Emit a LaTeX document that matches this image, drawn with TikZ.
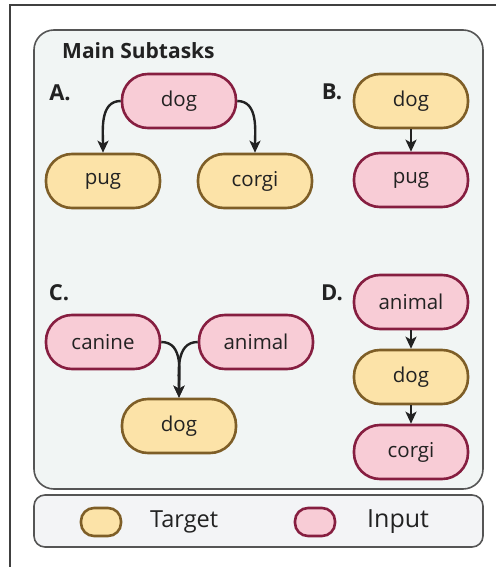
\documentclass[tikz,border=0pt]{standalone}
\usepackage{fontspec}
\setmainfont{Open Sans}
\usetikzlibrary{arrows.meta}
\definecolor{pinkfill}{HTML}{F8CCD6}
\definecolor{pinkline}{HTML}{861E40}
\definecolor{goldfill}{HTML}{FCE3A8}
\definecolor{goldline}{HTML}{7E5E27}
\definecolor{panelfill}{HTML}{F1F5F4}
\definecolor{legendfill}{HTML}{F3F4F6}
\definecolor{frameline}{HTML}{555555}
\definecolor{ink}{HTML}{222222}
\tikzset{
  pill/.style={rectangle, rounded corners=26pt, minimum width=114pt, minimum height=54pt,
    line width=2.6pt, inner sep=0pt, font=\fontsize{20.5}{24}\selectfont, text=ink},
  inputpill/.style={pill, fill=pinkfill, draw=pinkline},
  targetpill/.style={pill, fill=goldfill, draw=goldline},
  keypill/.style={rectangle, rounded corners=13pt, minimum width=40pt, minimum height=28pt,
    line width=2.6pt, inner sep=0pt},
  panellabel/.style={font=\bfseries\fontsize{22}{26}\selectfont, text=ink},
  flow/.style={line width=2.4pt, ink, -{Stealth[length=12pt,width=11pt,inset=3pt]}},
}
\begin{document}
\begin{tikzpicture}[x=1pt,y=1pt]
\useasboundingbox (0,0) rectangle (496,-567);
% outer frame edges
\draw[line width=1.5pt, black!75] (496,-5) -- (10,-5) -- (10,-567);
% main panel and legend box
\draw[line width=1.6pt, draw=frameline, fill=panelfill, rounded corners=20pt]
  (34,-30) rectangle (483,-489);
\draw[line width=1.6pt, draw=frameline, fill=legendfill, rounded corners=11pt]
  (34,-495) rectangle (483,-547);

\node[font=\bfseries\fontsize{21}{25}\selectfont, text=ink, anchor=west, inner sep=0pt] (title) at (62,-51) {Main Subtasks};

% A: one input, two targets
\node[panellabel] (labA) at (60,-93) {A.};
\node[inputpill]  (dogA)   at (179,-101) {dog};
\node[targetpill] (pugA)   at (103,-181) {pug};
\node[targetpill] (corgiA) at (255,-181) {corgi};
\draw[flow] (dogA.west) to[out=180,in=90] (pugA.north);
\draw[flow] (dogA.east) to[out=0,in=90] (corgiA.north);

% B: target above input
\node[panellabel] (labB) at (332,-92) {B.};
\node[targetpill] (dogB) at (411,-101) {dog};
\node[inputpill]  (pugB) at (411,-180) {pug};
\draw[flow] (dogB.south) -- (pugB.north);

% C: two inputs merge into one target
\node[panellabel] (labC) at (59,-293) {C.};
\node[inputpill]  (canineC) at (103,-342) {canine};
\node[inputpill]  (animalC) at (256,-342) {animal};
\node[targetpill] (dogC)    at (179,-426) {dog};
\draw[flow] (canineC.east) to[out=0,in=90] (dogC.north);
\draw[flow] (animalC.west) to[out=180,in=90] (dogC.north);

% D: chain of three
\node[panellabel] (labD) at (332,-293) {D.};
\node[inputpill]  (animalD) at (411,-302) {animal};
\node[targetpill] (dogD)    at (411,-377) {dog};
\node[inputpill]  (corgiD)  at (411,-452) {corgi};
\draw[flow] (animalD.south) -- (dogD.north);
\draw[flow] (dogD.south) -- (corgiD.north);

% legend
\node[keypill, fill=goldfill, draw=goldline] (keyT) at (101,-522) {};
\node[anchor=west, inner sep=0pt, font=\fontsize{23.5}{27}\selectfont, text=ink] (txtT) at (150,-522) {Target};
\node[keypill, fill=pinkfill, draw=pinkline] (keyI) at (315,-522) {};
\node[anchor=west, inner sep=0pt, font=\fontsize{25}{29}\selectfont, text=ink] (txtI) at (367,-522) {Input};
\end{tikzpicture}
\end{document}
